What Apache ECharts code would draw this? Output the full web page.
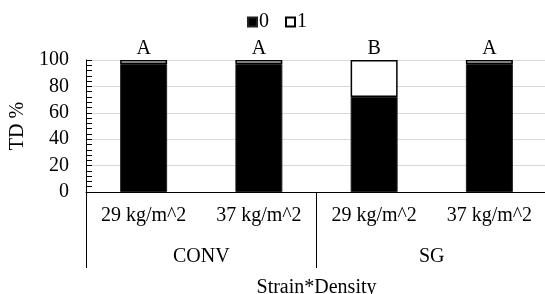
<!DOCTYPE html>
<html>
<head>
<meta charset="utf-8">
<script src="https://cdn.jsdelivr.net/npm/echarts@6/dist/echarts.min.js"></script>
<style>
  html, body { margin: 0; padding: 0; background: #fff; }
  #chart { width: 545px; height: 294px; }
</style>
</head>
<body>
<div id="chart"></div>
<script>
// 数据
var categories = ['29 kg/m^2', '37 kg/m^2', '29 kg/m^2', '37 kg/m^2'];
var groups = ['CONV', 'SG'];
var values0 = [97, 97, 72, 97];
var values1 = [3, 3, 28, 3];
var letters = ['A', 'A', 'B', 'A'];

var font = 'Liberation Serif';
var fs = 20;
var myChart = echarts.init(document.getElementById('chart'));

myChart.setOption({
  animation: false,
  textStyle: { fontFamily: font, color: '#000' },
  legend: {
    top: 7,
    left: 242,
    icon: 'rect',
    itemWidth: 9,
    itemHeight: 9,
    itemGap: 16,
    textStyle: { fontFamily: font, fontSize: fs, color: '#000', padding: [0, 0, 0, -3] },
    data: ['0', '1']
  },
  grid: { left: 86, right: -2, top: 60, bottom: 102, outerBoundsMode: 'none' },
  xAxis: [
    {
      type: 'category',
      data: categories,
      axisLine: { lineStyle: { color: '#000', width: 1 } },
      axisTick: { show: false },
      axisLabel: { margin: 14, fontSize: fs, color: '#000', fontFamily: font, interval: 0 }
    },
    {
      type: 'category',
      data: groups,
      position: 'bottom',
      axisLine: { show: false },
      axisTick: { show: true, length: 76, lineStyle: { color: '#000' } },
      axisLabel: { margin: 55, fontSize: fs, color: '#000', fontFamily: font },
      name: 'Strain*Density',
      nameLocation: 'middle',
      nameGap: 86,
      nameTextStyle: { fontSize: fs, color: '#000', fontFamily: font }
    }
  ],
  yAxis: {
    type: 'value',
    min: 0,
    max: 100,
    interval: 20,
    name: 'TD %',
    nameLocation: 'middle',
    nameGap: 57,
    nameTextStyle: { fontSize: fs, color: '#000', fontFamily: font },
    axisLine: { show: true, lineStyle: { color: '#000' } },
    axisTick: { show: true, inside: true, length: 6, lineStyle: { color: '#000' } },
    minorTick: { show: true, splitNumber: 5, length: 6, lineStyle: { color: '#000' } },
    axisLabel: { margin: 17, fontSize: fs, color: '#000', fontFamily: font },
    splitLine: { lineStyle: { color: '#d9d9d9' } }
  },
  series: [
    {
      name: '0',
      type: 'bar',
      stack: 'td',
      barWidth: 47,
      data: values0,
      itemStyle: { color: '#000', borderColor: '#222', borderWidth: 1 }
    },
    {
      name: '1',
      type: 'bar',
      stack: 'td',
      barWidth: 47,
      data: values1,
      itemStyle: { color: '#fff', borderColor: '#000', borderWidth: 1.5 },
      label: {
        show: true,
        position: 'top',
        distance: 1,
        fontSize: fs,
        color: '#000',
        fontFamily: font,
        formatter: function (p) { return letters[p.dataIndex]; }
      }
    }
  ]
});
</script>
</body>
</html>
